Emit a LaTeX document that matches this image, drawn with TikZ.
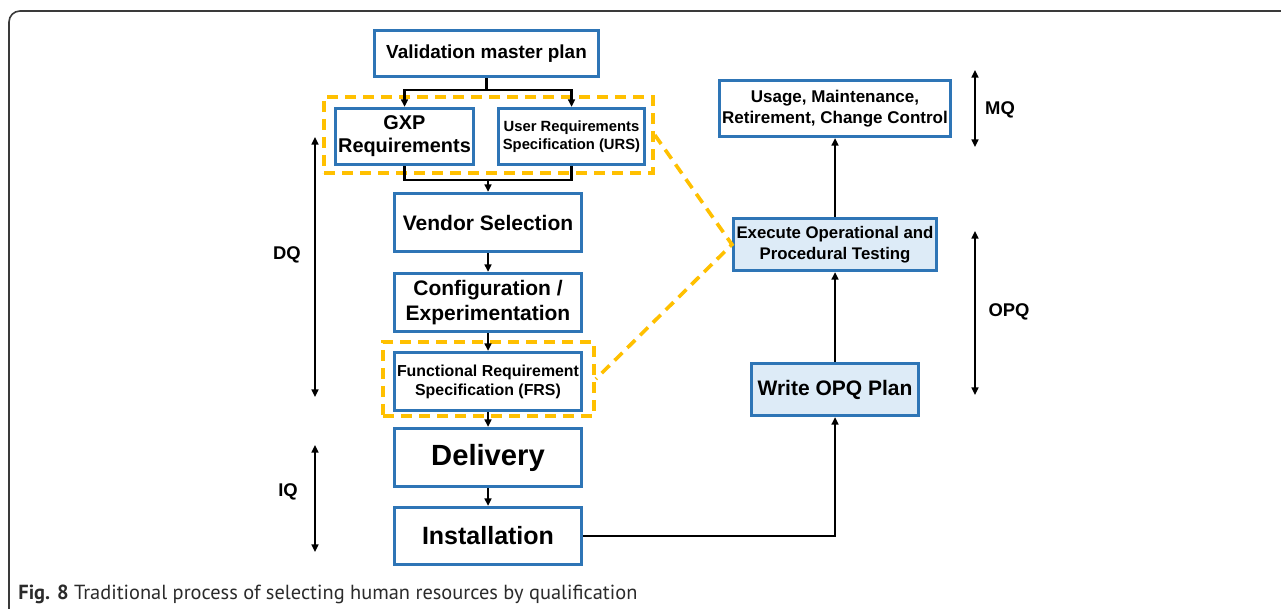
\documentclass[tikz,border=0pt]{standalone}
\usepackage{graphicx}
\usepackage{fontspec}
\setmainfont{Liberation Sans}
\newfontfamily\capfont{PT Sans}
\usetikzlibrary{arrows.meta}
\definecolor{boxblue}{HTML}{2E75B6}
\definecolor{boxfill}{HTML}{DDEBF7}
\definecolor{gold}{HTML}{FFC000}
\definecolor{framegray}{HTML}{3A3A3A}
\definecolor{capgray}{HTML}{2B2B2B}
\newcommand\fsz[2]{\fontsize{#1pt}{#2pt}\selectfont\bfseries}
\begin{document}
\begin{tikzpicture}[x=0.5pt,y=-0.5pt,
  box/.style={draw=boxblue, line width=1.3pt, fill=white, inner sep=0pt, align=center, text=black},
  lbox/.style={box, fill=boxfill},
  arr/.style={line width=1.1pt, -{Triangle[length=3.8pt,width=3.4pt]}},
  conn/.style={line width=1.1pt},
  darr/.style={line width=1.1pt, {Triangle[length=3.8pt,width=3.4pt]}-{Triangle[length=3.8pt,width=3.4pt]}},
  ydash/.style={draw=gold, line width=1.8pt, dash pattern=on 5.5pt off 3.5pt},
  grp/.style={ydash, inner sep=0pt},
  lbl/.style={font=\fsz{9.2}{11}, inner sep=0pt}]
\useasboundingbox (0,0) rectangle (1281,609);
\fill[white] (0,0) rectangle (1281,609);
% frame
\draw[framegray, line width=0.8pt, rounded corners=5.5pt] (9,609) -- (9,11) -- (1281,11);

% dashed groups
\node[grp, minimum width=164.5pt, minimum height=38pt] (grp1) at (488.5,135) {};
\node[grp, minimum width=105.5pt, minimum height=37pt] (grp2) at (488.5,379) {};

% boxes
\node[box, minimum width=112.25pt, minimum height=23.25pt, font=\fsz{9.45}{11.3}] (vmp) at (486.5,53.5) {Validation master plan};
\node[box, minimum width=69.25pt, minimum height=28.25pt, font=\fsz{9.95}{11.6}] (gxp) at (404.5,136.5) {GXP\\Requirements};
\node[box, minimum width=73.25pt, minimum height=28.25pt, font=\fsz{7.4}{9}] (urs) at (571.5,136.5) {User Requirements\\Specification (URS)};
\node[box, minimum width=93.75pt, minimum height=29.25pt, font=\fsz{10.5}{12.6}] (vendor) at (488,222.5) {Vendor Selection};
\node[box, minimum width=93.75pt, minimum height=29.25pt, font=\fsz{10.5}{12.5}] (config) at (488,302.5) {Configuration /\\Experimentation};
\node[box, minimum width=93.75pt, minimum height=29.25pt, font=\fsz{7.95}{9.4}] (frs) at (488,381.5) {Functional Requirement\\Specification (FRS)};
\node[box, minimum width=93.75pt, minimum height=29.25pt, font=\fsz{14.6}{17}] (delivery) at (488,457.5) {Delivery};
\node[box, minimum width=93.75pt, minimum height=28.75pt, font=\fsz{12.5}{15}] (install) at (488,536) {Installation};
\node[box, minimum width=115.75pt, minimum height=28.25pt, font=\fsz{8.5}{10.3}] (usage) at (835,108.5) {Usage, Maintenance,\\Retirement, Change Control};
\node[lbox, minimum width=101.75pt, minimum height=26.25pt, font=\fsz{8.4}{10.5}] (exec) at (835,244.5) {Execute Operational and\\Procedural Testing};
\node[lbox, minimum width=83.75pt, minimum height=26.25pt, font=\fsz{10.5}{12.6}] (wopq) at (835,389.5) {Write OPQ Plan};

% yellow dashed links
\draw[ydash] (grp1.east) -- (exec.west) -- (grp2.east);

% connectors
\draw[arr] (vmp.south) -- ++(0,12) -| (gxp.north);
\draw[arr] (vmp.south) -- ++(0,12) -| (urs.north);
\draw[conn] (gxp.south) -- ++(0,14) coordinate (jl) -| (urs.south);
\draw[arr] (vendor.north |- jl) -- (vendor.north);
\draw[arr] (vendor.south) -- (config.north);
\draw[arr] (config.south) -- (frs.north);
\draw[arr] (frs.south) -- (delivery.north);
\draw[arr] (delivery.south) -- (install.north);
\draw[arr] (install.east) -| (wopq.south);
\draw[arr] (wopq.north) -- (exec.south);
\draw[arr] (exec.north) -- (usage.south);

% phase arrows
\coordinate (mq1) at (975,70);  \coordinate (mq2) at (975,147);
\coordinate (op1) at (975,231); \coordinate (op2) at (975,395);
\coordinate (dq1) at (315,137); \coordinate (dq2) at (315,397);
\coordinate (iq1) at (315,445); \coordinate (iq2) at (315,552);
\draw[darr] (mq1) -- (mq2);
\draw[darr] (op1) -- (op2);
\draw[darr] (dq1) -- (dq2);
\draw[darr] (iq1) -- (iq2);
\node[lbl] (mql) at (1000,110) {MQ};
\node[lbl] (opql) at (1009,312) {OPQ};
\node[lbl] (dql) at (287,255) {DQ};
\node[lbl] (iql) at (288,492) {IQ};

% caption
\node[anchor=base west, inner sep=0pt, text=capgray] (cap) at (18,599)
  {\resizebox{309.5pt}{!}{\capfont\fontsize{10pt}{12pt}\selectfont\textbf{Fig. 8} Traditional process of selecting human resources by qualification}};
\end{tikzpicture}
\end{document}
